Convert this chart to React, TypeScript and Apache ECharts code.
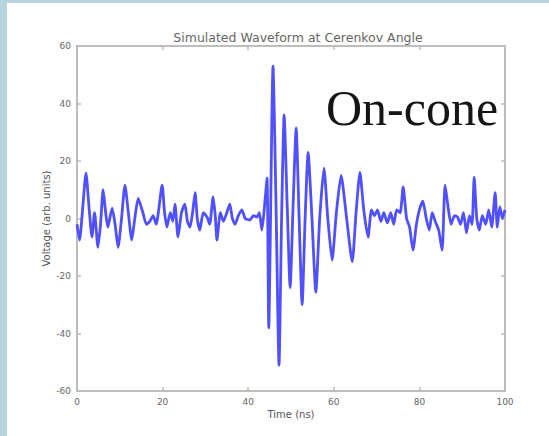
import React, { useEffect, useRef } from "react";
import * as echarts from "echarts";

// Time (ns) and voltage (arb. units)
const timeNs = [
  0, 0.6, 1.3, 2.1, 2.8, 3.5, 4.1, 4.9, 5.5, 6.1, 6.7, 7.2, 8.2, 8.9, 9.6, 10.4, 11.2, 12.0, 12.8, 13.5,
  14.3, 15.4, 16.2, 17.0, 17.8, 18.5, 19.9, 20.4, 21.0, 21.8, 22.4, 22.9, 23.6, 24.4, 25.2, 25.8, 26.4, 27.0,
  27.6, 28.1, 28.7, 29.5, 30.4, 31.0, 31.8, 32.3, 32.7, 33.5, 34.2, 35.0, 35.7, 36.3, 36.9, 37.7, 38.5, 39.3,
  40.4, 41.2, 42.0, 42.6, 43.2, 43.8, 44.4, 44.8, 45.8, 46.5, 47.2, 47.8, 48.4, 49.1, 49.8, 50.5, 51.2, 51.9,
  52.6, 53.3, 54.0, 54.9, 55.8, 56.7, 57.7, 58.6, 59.6, 60.6, 61.7, 63.0, 64.3, 65.2, 66.1, 67.0, 68.0, 68.8,
  69.5, 70.2, 71.0, 71.7, 72.5, 73.3, 74.0, 74.7, 75.5, 76.2, 77.0, 77.7, 78.5, 79.3, 80.0, 80.8, 81.6, 82.3,
  83.0, 83.7, 84.5, 85.3, 86.0, 86.7, 87.4, 88.2, 88.9, 89.6, 90.3, 91.0, 91.7, 92.3, 92.8, 93.4, 94.0, 94.7,
  95.5, 96.2, 96.9, 97.7, 98.2, 98.8, 99.4, 100,
];
const voltage = [
  -2, -7.5, 3, 15.8, 4, -6.4, 2, -10, -2, 10, 2, -3, 3.6, -2, -10, 0, 11.6, 2, -7.5, 0,
  7, 2, -2, -1, 1, -2, 11.6, 3, -3, 2, -1, 5, -6.4, 2, 5, -1, -3, 2,
  9, 0, -4, 2, 0.5, -2, 7.5, 1, -7.5, 2, -1, 2, 5, 0, -2, 1, 3, 0,
  -0.5, 1, 0.5, 2, -4, 4, 14, -38, 53, 5, -51, 0, 36, 5, -24, 5, 31.5, 0,
  -30, 0, 23, 0, -25.6, 0, 17.5, 0, -14.5, 2, 15, 0, -15, 2, 16, 3, -6.5, 3,
  1, 3, -1, 2, -1.5, 2, -2, 3, 2, 11, 0, -3, -11, -2, 3, 6, 0, -4,
  2, -1, -4, -11, 11.6, 4, -2, 1, 0.5, -2, 2, -5, 1, -2, 14.4, 0, -4, 1,
  -2, 3, -3, 9, -3, 4, 0, 3,
];

const xTicks = { min: 0, max: 100, interval: 20 };
const yTicks = { min: -60, max: 60, interval: 20 };

const titleText = "Simulated Waveform at Cerenkov Angle";
const xName = "Time (ns)";
const yName = "Voltage (arb. units)";
const overlayText = "On-cone";

export default function App() {
  const ref = useRef<HTMLDivElement>(null);
  useEffect(() => {
    if (!ref.current) return;
    const chart = echarts.init(ref.current, undefined, { renderer: "svg" });
    const data = timeNs.map((t, i) => [t, voltage[i]]);
    const frame = "#bdbdbd";
    const lab = { fontSize: 9, color: "#666", fontFamily: "DejaVu Sans" };
    const axisCommon = {
      axisLine: { show: true, onZero: false, lineStyle: { color: frame, width: 2 } },
      axisTick: { show: true, inside: true, length: 4, lineStyle: { color: frame, width: 1.5 } },
      splitLine: { show: false },
    };
    chart.setOption({
      animation: false,
      backgroundColor: "#ffffff",
      title: {
        text: titleText,
        left: 293,
        top: 26,
        textAlign: "center",
        textStyle: { fontSize: 12.5, fontWeight: "normal", color: "#666", fontFamily: "DejaVu Sans" },
      },
      grid: { left: 77, top: 46, width: 428, height: 345 },
      xAxis: [
        {
          type: "value",
          position: "bottom",
          ...xTicks,
          ...axisCommon,
          axisLabel: { ...lab, margin: 6 },
          name: xName,
          nameLocation: "middle",
          nameGap: 18,
          nameMoveOverlap: false,
          nameTextStyle: { fontSize: 10, color: "#555", fontFamily: "DejaVu Sans" },
        },
        {
          type: "value",
          position: "top",
          ...xTicks,
          ...axisCommon,
          axisLabel: { show: false },
        },
      ],
      yAxis: [
        {
          type: "value",
          position: "left",
          ...yTicks,
          ...axisCommon,
          axisLabel: { ...lab, margin: 6 },
          name: yName,
          nameLocation: "middle",
          nameGap: 26,
          nameMoveOverlap: false,
          nameTextStyle: { fontSize: 10, color: "#555", fontFamily: "DejaVu Sans" },
        },
        {
          type: "value",
          position: "right",
          ...yTicks,
          ...axisCommon,
          axisLabel: { show: false },
        },
      ],
      series: [
        {
          type: "line",
          data,
          showSymbol: false,
          smooth: 0.2,
          lineStyle: { color: "#5050ff", width: 2.8 },
        },
      ],
      graphic: [
        { type: "rect", shape: { x: 0, y: 0, width: 7, height: 436 }, style: { fill: "#b5d5dc" }, silent: true },
        { type: "rect", shape: { x: 0, y: 0, width: 549, height: 3 }, style: { fill: "#b5d5dc" }, silent: true },
        {
          type: "text",
          x: 326,
          y: 83,
          style: {
            text: overlayText,
            font: '50px "Liberation Serif"',
            fill: "#151515",
            textVerticalAlign: "top",
          },
          z: 10,
        },
      ],
    });
    return () => chart.dispose();
  }, []);
  return (
    <div
      ref={ref}
      style={{ position: "fixed", left: 0, top: 0, width: 549, height: 436 }}
    />
  );
}
